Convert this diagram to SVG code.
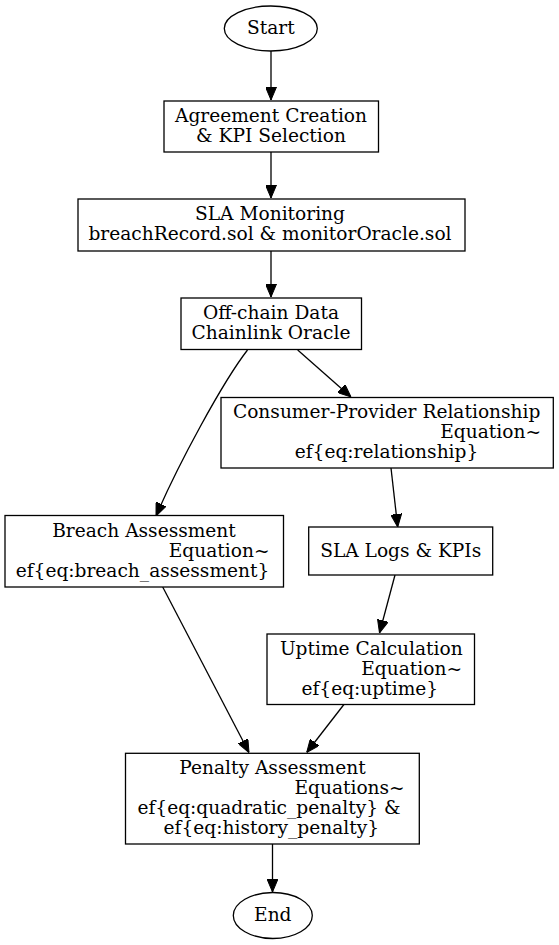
<svg xmlns="http://www.w3.org/2000/svg" width="559" height="945" viewBox="0 0 559 945">
<defs>
<style>
.n{fill:#fff;stroke:#000;stroke-width:1.3}
.t{font-family:"DejaVu Serif",serif;font-size:18.6px;fill:#000;text-anchor:middle}
.r{text-anchor:end}
.e{fill:none;stroke:#000;stroke-width:1.3}
</style>
<marker id="ah" markerUnits="userSpaceOnUse" markerWidth="13" markerHeight="11" viewBox="0 0 13 11" refX="13" refY="5.5" orient="auto">
<path d="M0,0 L13,5.5 L0,11 z" fill="#000" stroke="#000" stroke-width="1"/>
</marker>
</defs>
<rect width="559" height="945" fill="#fff"/>
<g id="connectors">
<path class="e" d="M271,51 L271,100" marker-end="url(#ah)"/>
<path class="e" d="M271,152 L271,198" marker-end="url(#ah)"/>
<path class="e" d="M271,251 L271,297" marker-end="url(#ah)"/>
<path class="e" d="M297.7,350 L351,397" marker-end="url(#ah)"/>
<path class="e" d="M247.5,350 C222,383 178,465 156,516" marker-end="url(#ah)"/>
<path class="e" d="M391,468 L397.7,527" marker-end="url(#ah)"/>
<path class="e" d="M395,575 L379.5,633" marker-end="url(#ah)"/>
<path class="e" d="M344.3,704 L306.7,752.5" marker-end="url(#ah)"/>
<path class="e" d="M162.7,587 L249,752.5" marker-end="url(#ah)"/>
<path class="e" d="M272.5,844 L272.5,892" marker-end="url(#ah)"/>
</g>
<g id="start">
<ellipse class="n" cx="270.8" cy="28.5" rx="46.5" ry="22.5"/>
<text class="t" x="270.8" y="34">Start</text>
</g>
<g id="agreement">
<rect class="n" x="164" y="101" width="214.5" height="51"/>
<text class="t" x="271" y="122">Agreement Creation</text>
<text class="t" x="271" y="142">&amp; KPI Selection</text>
</g>
<g id="monitoring">
<rect class="n" x="78" y="199" width="387" height="52"/>
<text class="t" x="270" y="220">SLA Monitoring</text>
<text class="t" x="270" y="240">breachRecord.sol &amp; monitorOracle.sol</text>
</g>
<g id="offchain">
<rect class="n" x="181" y="298" width="180.5" height="51.5"/>
<text class="t" x="271" y="319">Off-chain Data</text>
<text class="t" x="271" y="339">Chainlink Oracle</text>
</g>
<g id="relationship">
<rect class="n" x="221" y="397.5" width="332.3" height="70.5"/>
<text class="t" x="386.7" y="418">Consumer-Provider Relationship</text>
<text class="t r" x="541" y="438">Equation~</text>
<text class="t" x="386.5" y="458">ef{eq:relationship}</text>
</g>
<g id="breach">
<rect class="n" x="5" y="515.5" width="278.5" height="71.5"/>
<text class="t" x="144" y="536.5">Breach Assessment</text>
<text class="t r" x="269.5" y="556.5">Equation~</text>
<text class="t" x="142.5" y="576.5">ef{eq:breach_assessment}</text>
</g>
<g id="logs">
<rect class="n" x="308.7" y="527" width="184" height="48"/>
<text class="t" x="400.7" y="557">SLA Logs &amp; KPIs</text>
</g>
<g id="uptime">
<rect class="n" x="267" y="634" width="207.5" height="70.5"/>
<text class="t" x="371.3" y="654.5">Uptime Calculation</text>
<text class="t r" x="462" y="674.5">Equation~</text>
<text class="t" x="369.8" y="694.5">ef{eq:uptime}</text>
</g>
<g id="penalty">
<rect class="n" x="125.5" y="753.3" width="293.8" height="90.7"/>
<text class="t" x="272.5" y="774">Penalty Assessment</text>
<text class="t r" x="404.7" y="794">Equations~</text>
<text class="t" x="269" y="814">ef{eq:quadratic_penalty} &amp;</text>
<text class="t" x="271.3" y="834">ef{eq:history_penalty}</text>
</g>
<g id="end">
<ellipse class="n" cx="272.8" cy="915.5" rx="39.5" ry="23"/>
<text class="t" x="272.8" y="921">End</text>
</g>
</svg>
